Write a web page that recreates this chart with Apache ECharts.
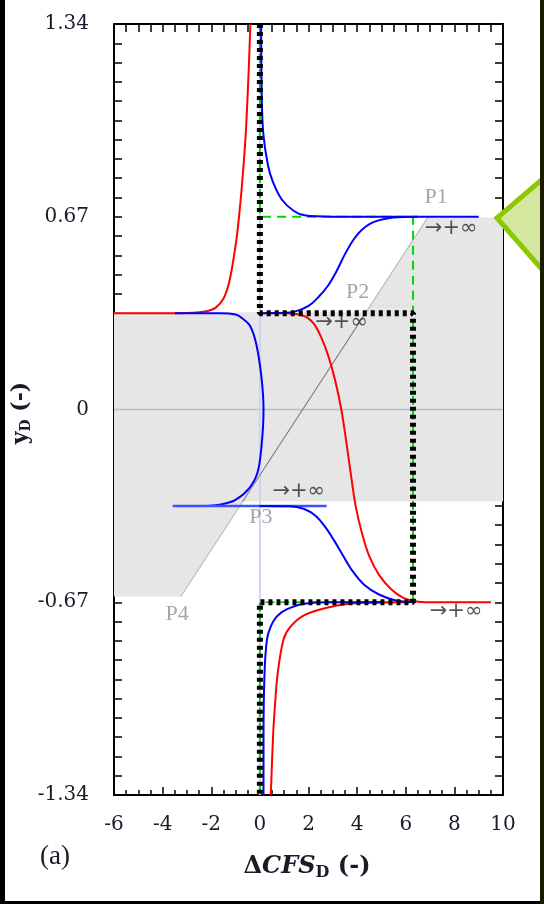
<!DOCTYPE html>
<html><head><meta charset="utf-8">
<script src="https://cdn.jsdelivr.net/npm/echarts@6/dist/echarts.min.js"></script>
<style>
html,body{margin:0;padding:0;background:#000;}
#paper{position:absolute;left:5px;top:0;width:535px;height:901px;background:#fff;}
#c{position:absolute;left:0;top:0;width:544px;height:904px;}
</style>
</head><body><div id="paper"></div><div id="c"></div>
<script>
// ---- axis ticks ----
const xTickValues = [-6,-4,-2,0,2,4,6,8,10];
const yTickValues = [-1.34,-0.67,0,0.67,1.34];

// ---- curves (x = ΔCFS_D, y = y_D) ----
const redUpper = [[-6,0.335],[-3.5,0.335],[-2.6,0.337],[-2.1,0.343],[-1.8,0.355],[-1.5,0.385],[-1.3,0.43],[-1.15,0.49],[-0.95,0.6],[-0.8,0.72],[-0.67,0.85],[-0.58,0.96],[-0.51,1.08],[-0.45,1.2],[-0.39,1.34]];
const redMiddle = [[0,0.335],[1,0.335],[1.5,0.332],[1.9,0.322],[2.2,0.3],[2.5,0.255],[2.8,0.19],[3.1,0.1],[3.35,0],[3.55,-0.11],[3.75,-0.23],[3.95,-0.34],[4.2,-0.43],[4.5,-0.51],[4.9,-0.575],[5.4,-0.625],[5.9,-0.655],[6.5,-0.668],[7.2,-0.67],[9.5,-0.67]];
const redLower = [[0.45,-1.34],[0.54,-1.14],[0.62,-1.03],[0.73,-0.92],[0.97,-0.8],[1.26,-0.755],[1.83,-0.715],[2.8,-0.688],[4.2,-0.672],[6,-0.67]];
const blueUpper = [[0.05,1.34],[0.08,1.08],[0.14,0.96],[0.33,0.85],[0.54,0.79],[0.9,0.73],[1.4,0.69],[1.83,0.675],[3,0.67],[9.0,0.67]];
const blueRise = [[0,0.335],[1,0.336],[1.5,0.342],[2.0,0.36],[2.4,0.39],[2.8,0.43],[3.15,0.48],[3.5,0.54],[3.85,0.59],[4.2,0.625],[4.7,0.652],[5.5,0.667],[6.5,0.67]];
const blueArc = [[-3.5,0.335],[-1.6,0.335],[-1.0,0.33],[-0.74,0.318],[-0.4,0.29],[-0.14,0.224],[0.07,0.108],[0.15,0],[0.07,-0.125],[-0.1,-0.22],[-0.45,-0.275],[-1.02,-0.315],[-1.6,-0.33],[-2.2,-0.335],[-3.58,-0.335]];
const blueFlat = [[-3.58,-0.335],[2.75,-0.335]];
const blueFall = [[0,-0.335],[1.2,-0.336],[1.8,-0.345],[2.3,-0.37],[2.7,-0.41],[3.05,-0.455],[3.4,-0.505],[3.8,-0.56],[4.3,-0.61],[4.9,-0.643],[5.6,-0.664],[6.3,-0.67]];
const blueLower = [[0.15,-1.34],[0.15,-1.14],[0.19,-0.92],[0.29,-0.8],[0.43,-0.758],[0.69,-0.72],[1.1,-0.695],[1.83,-0.675],[3,-0.67],[5,-0.67]];
const blackPath = [[0,1.34],[0,0.335],[6.3,0.335],[6.3,-0.67],[0,-0.67],[0,-1.34]];
const greenPath = [[0,1.34],[0,0.67],[6.3,0.67],[6.3,-0.67],[0,-0.67],[0,-1.34]];
const grayRegion = [[-6,0.338],[4.37,0.338],[6.9,0.667],[10,0.667],[10,-0.32],[-0.71,-0.32],[-3.25,-0.65],[-6,-0.65]];
const diagonal = [[-3.25,-0.65],[6.9,0.667]];
const diagonalBand = [[-0.71,-0.32],[4.37,0.338]];
const zeroH = [[-6,0],[10,0]];
const zeroV = [[0,-1.34],[0,1.34]];
const pointLabels = [[7.25,0.737,'P1'],[4.02,0.407,'P2'],[0.04,-0.375,'P3'],[-3.4,-0.713,'P4']];
const arrowLabels = [[7.87,0.629,'→+∞'],[3.36,0.302,'→+∞'],[1.6,-0.285,'→+∞'],[8.07,-0.702,'→+∞']];

const SERIF = '"DejaVu Serif", "Liberation Serif", serif';
const chart = echarts.init(document.getElementById('c'), null, {renderer:'canvas'});

function axisBase(pos, show){
  return {
    type:'value', position:pos,
    axisLine:{show:true, onZero:false, lineStyle:{color:'#000', width:2}},
    axisTick:{show:true, inside:true, length:8, lineStyle:{color:'#000', width:1.5}},
    splitLine:{show:false},
    axisLabel:{show:show, fontFamily:SERIF, fontSize:20, color:'#1a1a28'}
  };
}
const xb = axisBase('bottom', true);
Object.assign(xb, {min:-6, max:10, interval:2, minorTick:{show:true, splitNumber:4, length:5, lineStyle:{color:'#000', width:1.5}}});
xb.axisLabel.margin = 20;
xb.axisLabel.formatter = v => xTickValues.includes(v) ? String(v) : '';
const xt = axisBase('top', false);
Object.assign(xt, {min:-6, max:10, interval:2, minorTick:{show:true, splitNumber:4, length:8, lineStyle:{color:'#000', width:1.5}}});
const yl = axisBase('left', true);
Object.assign(yl, {min:-1.34, max:1.34, interval:0.67, minorTick:{show:true, splitNumber:10, length:8, lineStyle:{color:'#000', width:1.5}}});
yl.axisLabel.margin = 25;
yl.axisLabel.formatter = v => {
  let best = yTickValues.reduce((a,b)=>Math.abs(b-v)<Math.abs(a-v)?b:a);
  return best === 0 ? '0' : best.toFixed(2);
};
const yr = axisBase('right', false);
Object.assign(yr, {min:-1.34, max:1.34, interval:0.67, minorTick:{show:true, splitNumber:10, length:8, lineStyle:{color:'#000', width:1.5}}});

function line(data, color, width, type, z, smooth){
  return {type:'line', data:data, xAxisIndex:0, yAxisIndex:0, symbol:'none', showSymbol:false,
    smooth: smooth || false, z: z, silent:true,
    lineStyle:{color:color, width:width, type: type || 'solid'}};
}

const blackLine = line(blackPath, '#000', 6, [4,4], 20, false);
blackLine.lineStyle.cap = 'butt';

chart.setOption({
  animation:false,
  backgroundColor:'transparent',
  grid:{left:114, right:41, top:24, bottom:109, containLabel:false},
  xAxis:[xb, xt],
  yAxis:[yl, yr],
  series:[
    {type:'custom', xAxisIndex:0, yAxisIndex:0, data:grayRegion, z:1, silent:true,
     encode:{x:0, y:1},
     renderItem:function(params, api){
       if(params.dataIndex !== 0) return null;
       const pts = grayRegion.map(p => api.coord(p));
       return {type:'polygon', shape:{points:pts}, style:{fill:'#e6e6e6', stroke:null}};
     }},
    line(zeroH, '#aebfdc', 1.5, 'solid', 2),
    line(zeroV, '#c9d6ec', 2, 'solid', 2),
    line(diagonal, '#bdbdbd', 1.2, 'solid', 3),
    line(diagonalBand, '#7a7a7a', 1, 'solid', 3),
    line(greenPath, '#00d800', 2, [9,6], 5),
    line(redUpper, '#ff0000', 2, 'solid', 10, 0.35),
    line(redMiddle, '#ff0000', 2, 'solid', 10, 0.35),
    line(redLower, '#ff0000', 2, 'solid', 10, 0.35),
    line(blueUpper, '#0000ff', 2, 'solid', 11, 0.35),
    line(blueRise, '#0000ff', 2, 'solid', 11, 0.35),
    line(blueArc, '#0000ff', 2, 'solid', 11, 0.35),
    line(blueFlat, '#3f4fff', 2.5, 'solid', 11),
    line(blueFall, '#0000ff', 2, 'solid', 11, 0.35),
    line(blueLower, '#0000ff', 2, 'solid', 11, 0.35),
    blackLine,
    {type:'scatter', data:pointLabels, symbolSize:1, itemStyle:{color:'rgba(0,0,0,0)'}, z:25, silent:true,
     label:{show:true, position:'inside', formatter:p=>p.value[2], fontFamily:'"Liberation Serif", serif', fontSize:22, color:'#8e8f98'}},
    {type:'scatter', data:arrowLabels, symbolSize:1, itemStyle:{color:'rgba(0,0,0,0)'}, z:25, silent:true,
     label:{show:true, position:'inside', formatter:p=>p.value[2], fontFamily:'"DejaVu Sans", sans-serif', fontSize:21, color:'#2a2a30'}}
  ],
  graphic:[
    {type:'polygon', z:100, shape:{points:[[546,176],[497,218],[546,274]]}, style:{fill:'#d6e8a0', stroke:'#8cc800', lineWidth:5}},
    {type:'rect', z:101, shape:{x:540, y:0, width:4, height:904}, style:{fill:'#1a1a00'}},
    {type:'text', z:100, x:307, y:867, style:{
      text:'{d|Δ}{i|CFS}{s|D}{d| (-)}', align:'center', verticalAlign:'middle',
      rich:{d:{fontFamily:SERIF, fontSize:24, fontWeight:'bold', fill:'#1a1a28'},
            i:{fontFamily:SERIF, fontSize:24, fontWeight:'bold', fontStyle:'italic', fill:'#1a1a28'},
            s:{fontFamily:SERIF, fontSize:16, fontWeight:'bold', fill:'#1a1a28', padding:[11,0,0,0]}}}},
    {type:'text', z:100, x:55, y:857, style:{text:'(a)', align:'center', verticalAlign:'middle', fontFamily:'"Liberation Serif", serif', fontSize:27, fill:'#1a1a28'}},
    {type:'text', z:100, x:21, y:413, rotation:Math.PI/2, style:{
      text:'{d|y}{s|D}{d| (-)}', align:'center', verticalAlign:'middle',
      rich:{d:{fontFamily:SERIF, fontSize:22, fontWeight:'bold', fill:'#1a1a28'},
            s:{fontFamily:SERIF, fontSize:14, fontWeight:'bold', fill:'#1a1a28', padding:[10,0,0,0]}}}}
  ]
});
</script>
</body></html>
